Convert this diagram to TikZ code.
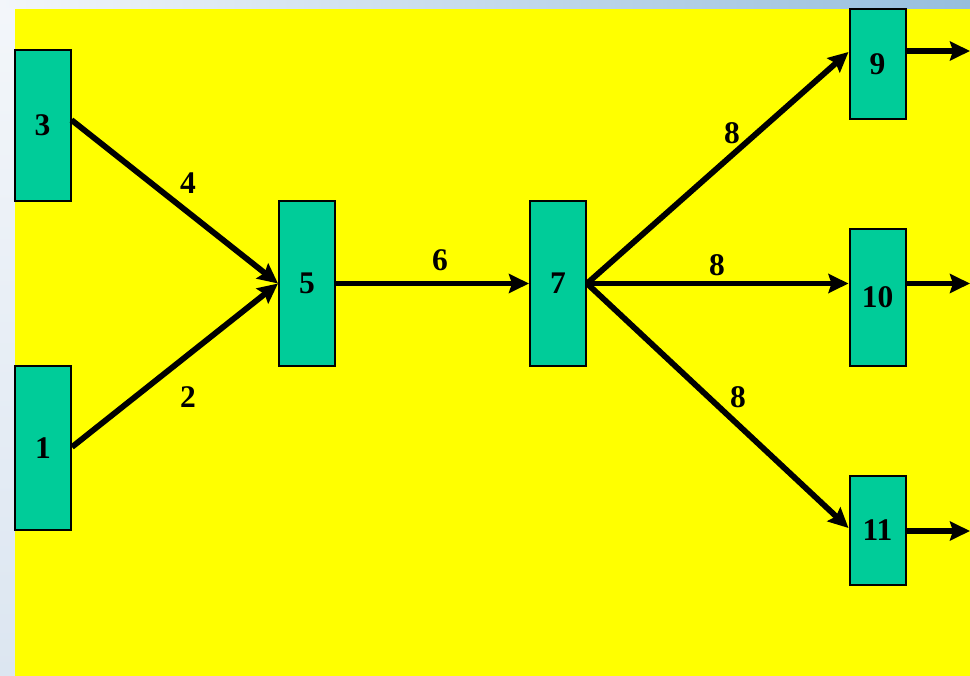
\documentclass[tikz,border=0pt]{standalone}
\usepackage{fontspec}
\setmainfont{Liberation Serif}
\usetikzlibrary{arrows.meta,calc}
\definecolor{bgyellow}{RGB}{255,255,0}
\definecolor{boxgreen}{RGB}{0,204,153}
\definecolor{stripL}{RGB}{243,246,250}
\definecolor{stripR}{RGB}{150,190,221}
\definecolor{stripB}{RGB}{220,230,241}
\tikzset{
  actbox/.style={draw=black, line width=2pt, fill=boxgreen, minimum width=56pt, inner sep=0pt,
    font=\fontsize{31.5}{36}\selectfont\bfseries},
  flow/.style={line width=5.8pt, -{Stealth[length=20pt,width=19pt,inset=3pt]}},
  lbl/.style={font=\fontsize{31.5}{36}\selectfont\bfseries, inner sep=0pt}
}
\begin{document}
\begin{tikzpicture}[x=1pt,y=-1pt]
\useasboundingbox (0,0) rectangle (970,676);
% background
\shade[left color=stripL, right color=stripR] (0,0) rectangle (970,10);
\shade[top color=stripL, bottom color=stripB] (0,9) rectangle (15,676);
\fill[bgyellow] (15,9) rectangle (970,676);
% boxes
\node[actbox, minimum height=151pt] (n3) at (42.5,125.5) {3};
\node[actbox, minimum height=164pt] (n1) at (43,448) {1};
\node[actbox, minimum height=165pt] (n5) at (307,283.5) {5};
\node[actbox, minimum height=165pt] (n7) at (558,283.5) {7};
\node[actbox, minimum height=110pt] (n9) at (877.5,64) {9};
\node[actbox, minimum height=137pt] (n10) at (877.5,297.5) {10};
\node[actbox, minimum height=109pt] (n11) at (877.5,530) {11};
% free ends
\coordinate (o9) at (970,51);
\coordinate (o10) at (970,283.5);
\coordinate (o11) at (970,531);
% connectors
\draw[flow] ([yshift=5.5pt]n3.east) -- (n5.west);
\draw[flow] ([yshift=1pt]n1.east) -- (n5.west);
\draw[flow] (n5.east) -- (n7.west);
\draw[flow] (n7.east) -- ([yshift=12pt]n9.west);
\draw[flow] (n7.east) -- ([yshift=14pt]n10.west);
\draw[flow] (n7.east) -- ([yshift=2pt]n11.west);
\draw[flow] ([yshift=13pt]n9.east) -- (o9);
\draw[flow] ([yshift=14pt]n10.east) -- (o10);
\draw[flow] ([yshift=-1pt]n11.east) -- (o11);
% labels
\node[lbl] (l4) at (188,183) {4};
\node[lbl] (l2) at (188,397) {2};
\node[lbl] (l6) at (440,260) {6};
\node[lbl] (l8a) at (732,133) {8};
\node[lbl] (l8b) at (717,265) {8};
\node[lbl] (l8c) at (738,397) {8};
\end{tikzpicture}
\end{document}
